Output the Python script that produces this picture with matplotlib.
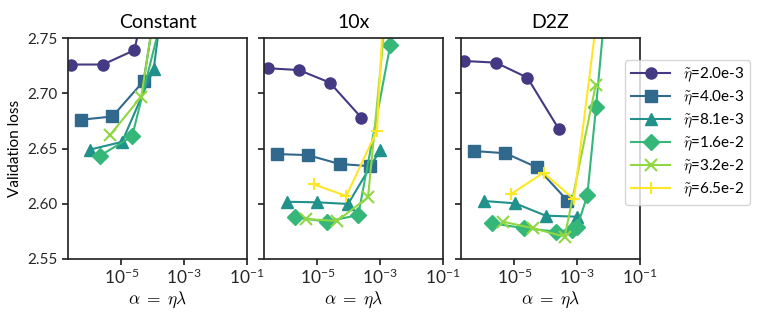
import numpy as np
import matplotlib
matplotlib.use("Agg")
import matplotlib.pyplot as plt

plt.rcParams['font.family'] = ['Lato', 'DejaVu Sans']
plt.rcParams['mathtext.fontset'] = 'cm'
plt.rcParams['axes.edgecolor'] = '#262626'
plt.rcParams['axes.linewidth'] = 1.25
plt.rcParams['xtick.color'] = '#262626'
plt.rcParams['ytick.color'] = '#262626'
plt.rcParams['xtick.major.width'] = 1.25
plt.rcParams['ytick.major.width'] = 1.25
plt.rcParams['xtick.major.size'] = 4
plt.rcParams['ytick.major.size'] = 4

# schedules / panels
titles = ["Constant", "10x", "D2Z"]
eta_labels = ["2.0e-3", "4.0e-3", "8.1e-3", "1.6e-2", "3.2e-2", "6.5e-2"]
markers = ["o", "s", "^", "D", "x", "+"]

# alpha = eta * lambda (one list per eta)
constant_alpha = [
    [2.5e-7, 2.6e-6, 2.6e-5, 2.6e-4],
    [5.2e-7, 5.2e-6, 5.1e-5, 5.1e-4],
    [1.0e-6, 1.05e-5, 1.07e-4, 1.07e-3],
    [2.1e-6, 2.2e-5, 2.2e-4],
    [4.3e-6, 4.3e-5, 4.3e-4],
    [],
]
constant_loss = [
    [2.726, 2.726, 2.739, 2.87],
    [2.676, 2.679, 2.711, 2.89],
    [2.649, 2.656, 2.722, 2.94],
    [2.6435, 2.661, 2.775],
    [2.662, 2.697, 2.88],
    [],
]

tenx_alpha = [
    [2.7e-7, 2.6e-6, 2.5e-5, 2.5e-4],
    [5.2e-7, 5.0e-6, 5.1e-5, 4.9e-4],
    [1.05e-6, 1.0e-5, 9.5e-5, 1.0e-3],
    [2.0e-6, 2.0e-5, 2.0e-4, 2.1e-3],
    [4.5e-6, 4.2e-5, 4.1e-4, 4.1e-3],
    [7.6e-6, 8.3e-5, 7.9e-4, 7.9e-3],
]
tenx_loss = [
    [2.7226, 2.721, 2.7096, 2.678],
    [2.645, 2.644, 2.636, 2.634],
    [2.6018, 2.6013, 2.5998, 2.6486],
    [2.5877, 2.5838, 2.5898, 2.7437],
    [2.5862, 2.5844, 2.6058, 2.90],
    [2.6176, 2.607, 2.6661, 3.19],
]

d2z_alpha = [
    [2.5e-7, 2.6e-6, 2.6e-5, 2.6e-4],
    [5.2e-7, 5.2e-6, 5.2e-5, 4.9e-4],
    [1.05e-6, 1.05e-5, 1.0e-4, 1.0e-3],
    [2.0e-6, 2.1e-5, 2.1e-4, 6.8e-4, 1.0e-3, 2.1e-3, 4.0e-3, 7.9e-3],
    [4.3e-6, 4.0e-5, 4.0e-4, 3.9e-3],
    [7.9e-6, 8.5e-5, 7.9e-4, 7.9e-3],
]
d2z_loss = [
    [2.7292, 2.7277, 2.7141, 2.6676],
    [2.6477, 2.6457, 2.633, 2.6028],
    [2.6025, 2.6004, 2.5892, 2.5883],
    [2.5823, 2.5778, 2.5748, 2.5765, 2.579, 2.6075, 2.688, 2.78],
    [2.5838, 2.5778, 2.5702, 2.7075],
    [2.6088, 2.6281, 2.604, 2.83],
]

y_ticks = [2.55, 2.60, 2.65, 2.70, 2.75]
x_ticks = [1e-5, 1e-3, 1e-1]

colors = plt.cm.viridis(np.arange(1, 7) / 6)

fig = plt.figure(figsize=(7.61, 3.17), dpi=100)
lefts = [68 / 761, 264 / 761, 461 / 761]
w = 179 / 761
b = 1 - 259 / 317
h = 221 / 317

panels = [(constant_alpha, constant_loss), (tenx_alpha, tenx_loss), (d2z_alpha, d2z_loss)]
axes = []
for i, (alphas, losses) in enumerate(panels):
    ax = fig.add_axes([lefts[i], b, w, h])
    for j in range(len(eta_labels)):
        ax.plot(alphas[j], losses[j], marker=markers[j], color=colors[j],
                markersize=9 if markers[j] in ("x", "+") else 8,
                markeredgewidth=1.5 if markers[j] in ("x", "+") else 1,
                linewidth=1.5, label=r"$\tilde{\eta}$=" + eta_labels[j])
    ax.set_xscale("log")
    ax.set_xlim(2e-7, 1e-1)
    ax.set_ylim(2.55, 2.75)
    ax.set_xticks(x_ticks)
    ax.xaxis.set_minor_locator(matplotlib.ticker.NullLocator())
    ax.set_yticks(y_ticks)
    ax.tick_params(axis="x", labelsize=12.5, pad=2)
    ax.tick_params(axis="y", labelsize=11)
    ax.set_title(titles[i], fontsize=14, pad=7)
    ax.set_xlabel(r"$\alpha \;=\; \eta\lambda$", fontsize=12.5, labelpad=2)
    if i == 0:
        ax.set_ylabel("Validation loss", fontsize=11)
        ax.set_yticklabels(["%.2f" % t for t in y_ticks])
    else:
        ax.set_yticklabels([])
    axes.append(ax)

handles, labels = axes[1].get_legend_handles_labels()
fig.legend(handles, labels, loc="upper left", bbox_to_anchor=(617 / 761, 1 - 52 / 317),
           fontsize=11, frameon=True, edgecolor="#cccccc", fancybox=True,
           handlelength=2.6, labelspacing=0.3)

fig.savefig("out.png", dpi=100)
